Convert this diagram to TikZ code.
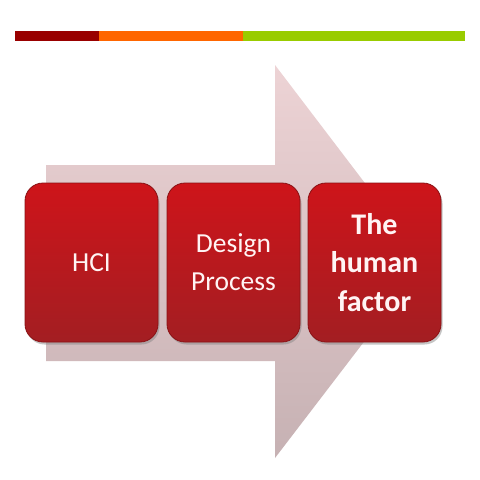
\documentclass[tikz,border=0pt]{standalone}
\usepackage{fontspec}
\setmainfont{Carlito}
\usetikzlibrary{shadows}
\definecolor{barred}{HTML}{990000}
\definecolor{barorange}{HTML}{FF6600}
\definecolor{bargreen}{HTML}{99CC00}
\definecolor{arrowtop}{HTML}{EDD3D5}
\definecolor{arrowbot}{HTML}{C6B1B3}
\definecolor{boxtop}{HTML}{CE141A}
\definecolor{boxbot}{HTML}{A31E22}
\definecolor{boxedge}{HTML}{8A1114}
\definecolor{boxtext}{HTML}{FFF4F4}
\begin{document}
\begin{tikzpicture}[x=1pt,y=-1pt,
  stagebox/.style={rounded corners=18pt, minimum width=133pt, minimum height=159pt,
    top color=boxtop, bottom color=boxbot, draw=boxedge, line width=0.8pt,
    text=boxtext, align=center, inner sep=0pt,
    font=\fontsize{27.5}{38}\selectfont,
    drop shadow={shadow xshift=1.5pt, shadow yshift=-2.5pt, opacity=0.45}},
  boldtext/.style={font=\fontsize{30}{38.5}\selectfont\bfseries}]
\fill[white] (0,0) rectangle (480,480);
\useasboundingbox (0,0) rectangle (480,480);
% top bar
\fill[barred] (15,31) rectangle (99,41);
\fill[barorange] (99,31) rectangle (243,41);
\fill[bargreen] (243,31) rectangle (465,41);
% big arrow
\shade[top color=arrowtop, bottom color=arrowbot]
  (46,165) -- (275,165) -- (275,65) -- (425,262) -- (275,458) -- (275,361) -- (46,361) -- cycle;
% boxes
\node[stagebox] (hci) at (91.5,262.5) {HCI};
\node[stagebox] (design) at (233.5,262.5) {Design\\Process};
\node[stagebox, boldtext] (human) at (374.5,262.5) {The\\human\\factor};
\end{tikzpicture}
\end{document}
